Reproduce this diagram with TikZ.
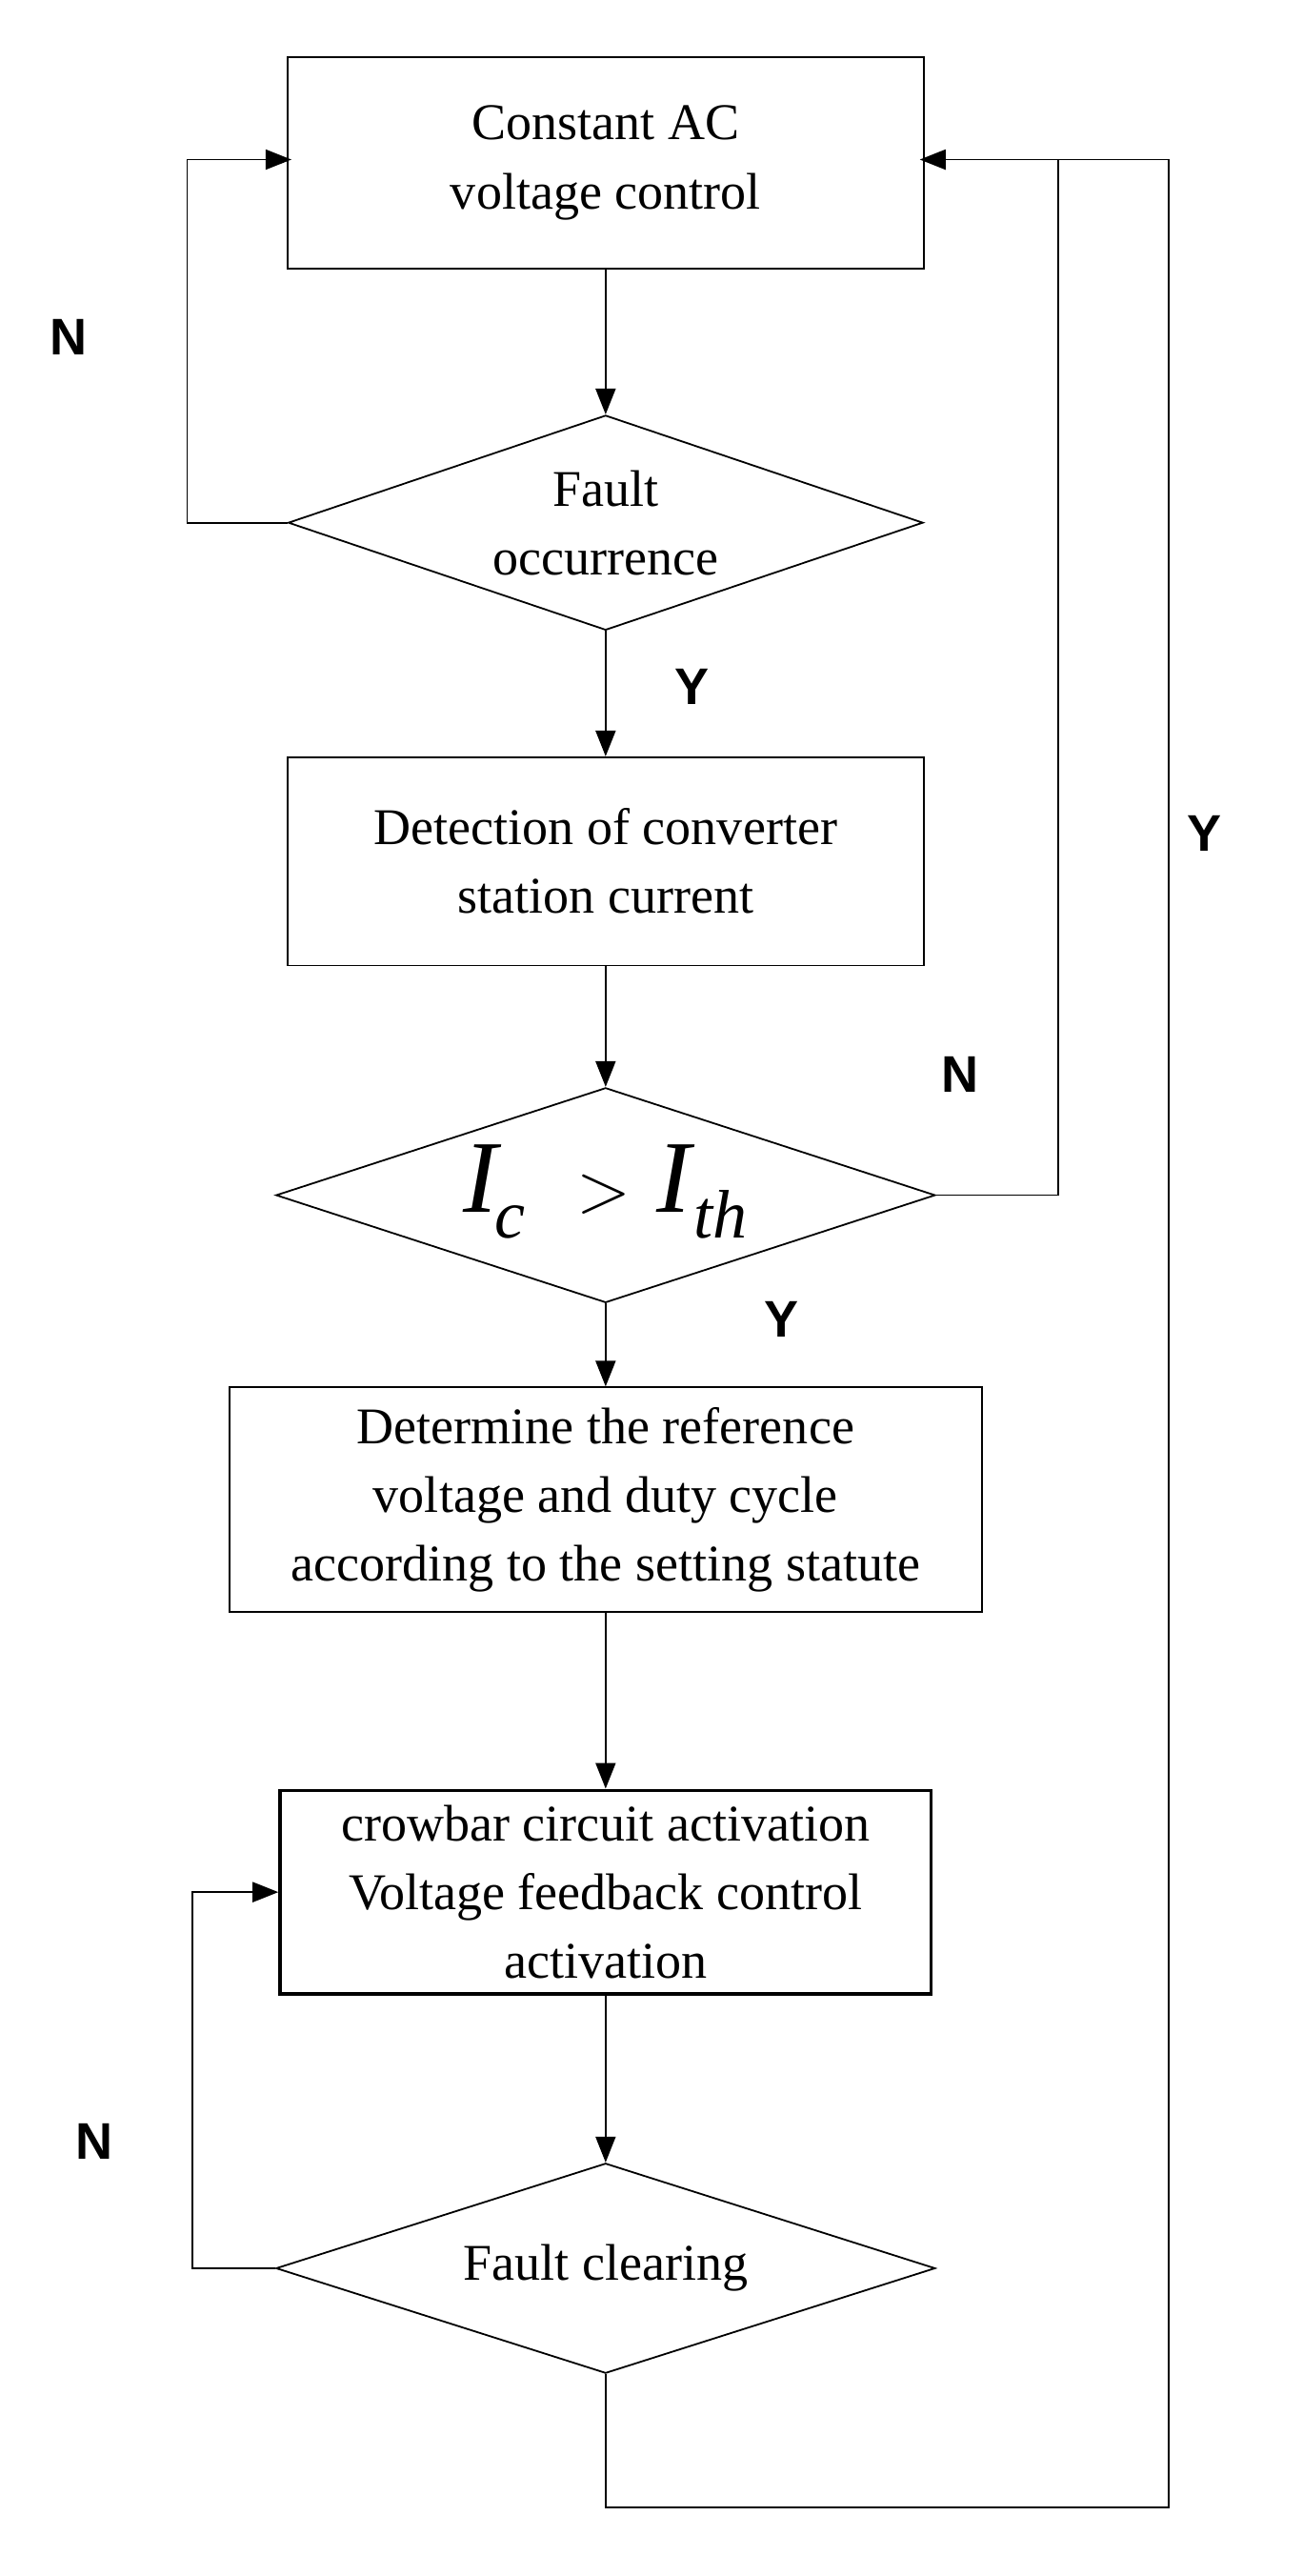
\documentclass[tikz,border=0pt]{standalone}
\usepackage{fontspec}
\setmainfont{Liberation Serif}
\newfontfamily\lab{Liberation Sans}
\usetikzlibrary{shapes.geometric,arrows.meta}
\begin{document}
\begin{tikzpicture}[x=0.02cm,y=-0.02cm,
 box/.style={draw,line width=0.6pt,inner sep=0,align=center,font=\fontsize{18}{24}\selectfont},
 dia/.style={draw,diamond,line width=0.6pt,inner sep=0,minimum width=7.8cm,minimum height=2.64cm},
 txt/.style={align=center,font=\fontsize{18}{24}\selectfont},
 yn/.style={font=\lab\bfseries\fontsize{18}{22}\selectfont},
 arr/.style={-{Triangle[length=9pt,width=7pt]},line width=0.6pt},
 ln/.style={line width=0.6pt}]
\useasboundingbox (0,0) rectangle (800,1582);
\node[box,minimum width=7.82cm,minimum height=2.6cm] (b1) at (372,100) {Constant AC\\voltage control};
\node[dia] (d1) at (372,321) {};
\node[txt] at (372,321) {Fault\\occurrence};
\node[box,minimum width=7.82cm,minimum height=2.56cm] (b2) at (372,529) {Detection of converter\\station current};
\node[dia,minimum width=8.1cm] (d2) at (372,734) {};
\node[font=\fontsize{36}{40}\selectfont] at (372,732) {\textit{I\kern-1pt\raisebox{-0.25em}{\fontsize{24}{26}\selectfont c}} \ $>$ \textit{I\kern1pt\raisebox{-0.25em}{\fontsize{24}{26}\selectfont th}}};
\node[box,minimum width=9.24cm,minimum height=2.76cm] (b3) at (372,921) {Determine the reference\\voltage and duty cycle\\according to the setting statute};
\node[box,line width=1.2pt,minimum width=8cm,minimum height=2.5cm] (b4) at (372,1162) {crowbar circuit activation\\Voltage feedback control\\activation};
\node[dia,minimum width=8.1cm,minimum height=2.58cm] (d3) at (372,1393) {};
\node[txt] at (372,1393) {Fault clearing};
\draw[arr] (b1.south) -- (d1.north);
\draw[arr] (d1.south) -- (b2.north);
\draw[arr] (b2.south) -- (d2.north);
\draw[arr] (d2.south) -- (b3.north);
\draw[arr] (b3.south) -- (b4.north);
\draw[arr] (b4.south) -- (d3.north);
\coordinate (c1) at (115,321);
\coordinate (c2) at (115,98);
\draw[arr] (d1.west) -- (c1) -- (c2) -- (179,98);
\coordinate (c3) at (650,734);
\coordinate (c4) at (650,98);
\draw[arr] (d2.east) -- (c3) -- (c4) -- (565,98);
\coordinate (c5) at (118,1393);
\coordinate (c6) at (118,1162);
\draw[arr] (d3.west) -- (c5) -- (c6) -- (b4.west);
\coordinate (c7) at (372,1540);
\coordinate (c8) at (718,1540);
\coordinate (c9) at (718,98);
\draw[ln] (d3.south) -- (c7) -- (c8) -- (c9) -- (c4);
\node[yn] at (42,207) {N};
\node[yn] at (425,422) {Y};
\node[yn] at (590,660) {N};
\node[yn] at (480,810) {Y};
\node[yn] at (58,1315) {N};
\node[yn] at (740,512) {Y};
\end{tikzpicture}
\end{document}
